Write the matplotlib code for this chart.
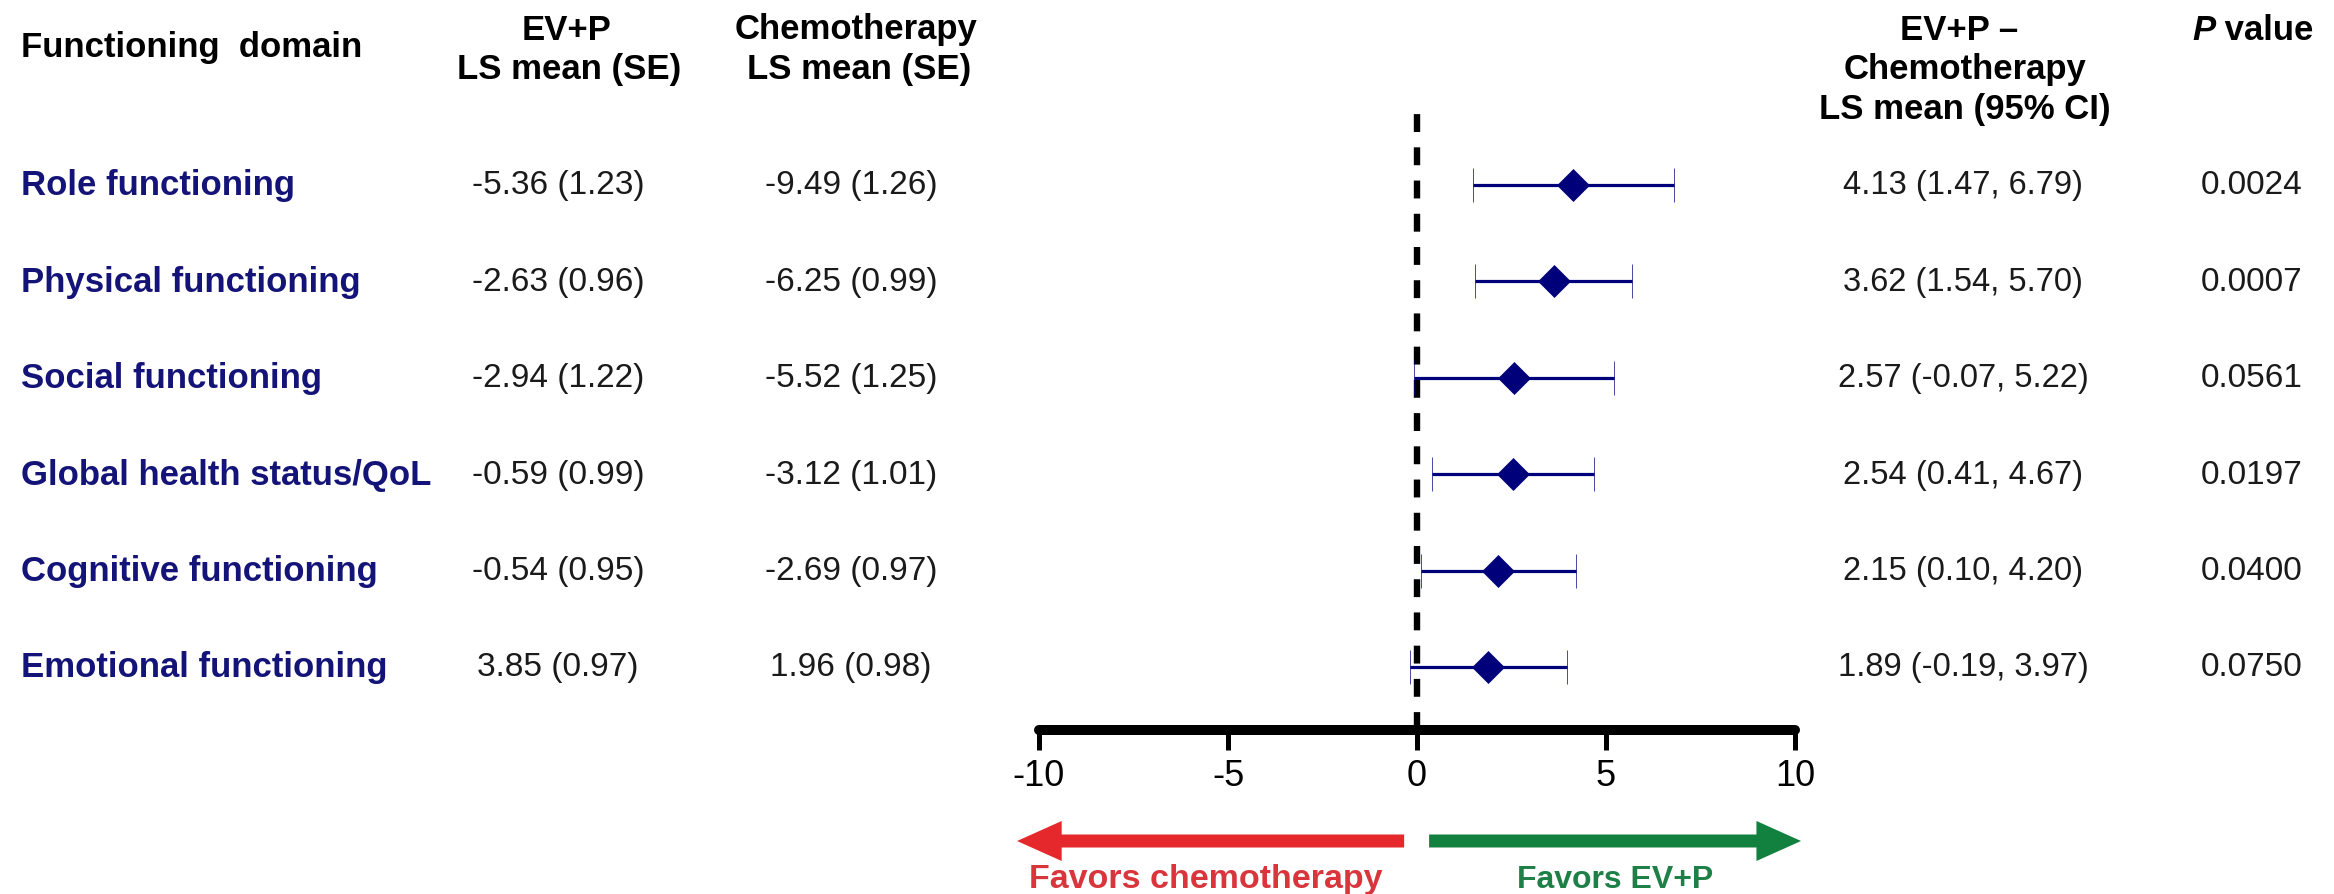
import matplotlib
matplotlib.use("Agg")
import matplotlib.pyplot as plt
from matplotlib.transforms import blended_transform_factory
from matplotlib.patches import FancyArrow

# ---------------- data ----------------
domains = ["Role functioning", "Physical functioning", "Social functioning",
           "Global health status/QoL", "Cognitive functioning", "Emotional functioning"]
evp_ls = ["-5.36 (1.23)", "-2.63 (0.96)", "-2.94 (1.22)", "-0.59 (0.99)", "-0.54 (0.95)", "3.85 (0.97)"]
chemo_ls = ["-9.49 (1.26)", "-6.25 (0.99)", "-5.52 (1.25)", "-3.12 (1.01)", "-2.69 (0.97)", "1.96 (0.98)"]
diff_mean = [4.13, 3.62, 2.57, 2.54, 2.15, 1.89]
diff_low = [1.47, 1.54, -0.07, 0.41, 0.10, -0.19]
diff_high = [6.79, 5.70, 5.22, 4.67, 4.20, 3.97]
p_values = ["0.0024", "0.0007", "0.0561", "0.0197", "0.0400", "0.0750"]
x_ticks = [-10, -5, 0, 5, 10]

# ---------------- layout ----------------
W, H = 2334, 895
FONT = "Liberation Sans"
plt.rcParams["font.family"] = [FONT, "DejaVu Sans"]
NAVY = "#141478"
MARK = "#00007A"
TXT = "#1a1a1a"

fig = plt.figure(figsize=(W / 100, H / 100), dpi=100)
fig.patch.set_facecolor("white")

ax_top, ax_bot = 102, 731
row0, step = 186, 96.4
ax = fig.add_axes([1039 / W, 1 - ax_bot / H, 756 / W, (ax_bot - ax_top) / H])
rows = list(range(len(domains)))
ax.set_xlim(-10, 10)
ax.set_ylim((ax_bot - row0) / step, (ax_top - row0) / step)

# reference line
ax.axvline(0, color="black", lw=4.6, dashes=(2.8, 2.4), zorder=2)

# forest marks
xerr = [[m - l for m, l in zip(diff_mean, diff_low)],
        [h - m for m, h in zip(diff_mean, diff_high)]]
ax.errorbar(diff_mean, rows, xerr=xerr, fmt="D", color=MARK, ms=16.5, mew=0.5,
            elinewidth=2.3, capsize=12.5, capthick=3.0, zorder=3)

for s in ["top", "left", "right"]:
    ax.spines[s].set_visible(False)
ax.spines["bottom"].set_linewidth(7.2)
ax.spines["bottom"].set_capstyle("round")
ax.spines["bottom"].set_bounds(-10, 10)
ax.set_xticks(x_ticks)
ax.set_xticklabels([str(t) for t in x_ticks])
ax.set_yticks([])
ax.tick_params(axis="x", length=14.5, width=3.6, labelsize=26, pad=6, colors="black")
ax.patch.set_alpha(0)

# ---------------- table text ----------------
rt = blended_transform_factory(fig.transFigure, ax.transData)
FSB = 25     # bold labels / headers
FSV = 24     # values
for i, name in enumerate(domains):
    fig.text(21 / W, rows[i], name, transform=rt, ha="left", va="center",
             fontsize=FSB, fontweight="bold", color=NAVY)
    fig.text(558 / W, rows[i], evp_ls[i], transform=rt, ha="center", va="center",
             fontsize=FSV, color=TXT)
    fig.text(851 / W, rows[i], chemo_ls[i], transform=rt, ha="center", va="center",
             fontsize=FSV, color=TXT)
    fig.text(1963 / W, rows[i],
             f"{diff_mean[i]:.2f} ({diff_low[i]:.2f}, {diff_high[i]:.2f})",
             transform=rt, ha="center", va="center", fontsize=23.5, color=TXT)
    fig.text(2252 / W, rows[i], p_values[i], transform=rt, ha="center", va="center",
             fontsize=FSV, color=TXT)

# headers
def htext(x, y, s, **kw):
    return fig.text(x / W, 1 - y / H, s, ha="center", va="center", fontsize=FSB,
                    fontweight="bold", color="black", **kw)

fig.text(21 / W, 1 - 47 / H, "Functioning  domain", ha="left", va="center",
         fontsize=FSB, fontweight="bold", color="black")
htext(567, 30, "EV+P")
htext(569, 70, "LS mean (SE)")
htext(856, 30, "Chemotherapy")
htext(859, 70, "LS mean (SE)")
htext(1959, 30, "EV+P \u2013")
htext(1965, 70, "Chemotherapy")
htext(1965, 110, "LS mean (95% CI)")
tp = fig.text(2192 / W, 1 - 30 / H, "P", ha="left", va="center", fontsize=FSB,
              fontweight="bold", fontstyle="italic", color="black")
ax.annotate(" value", xy=(1, 0), xycoords=tp, ha="left", va="bottom",
            fontsize=FSB, fontweight="bold", color="black", annotation_clip=False)

# ---------------- favors arrows ----------------
at = blended_transform_factory(ax.transData, fig.dpi_scale_trans)
ay = (H - 842) / 100
red, green = "#E5282C", "#12803F"
fig.patches.append(FancyArrow(-0.34, ay, -10.24, 0, width=0.13, head_width=0.40,
                              head_length=1.18, length_includes_head=True,
                              color=red, lw=0, transform=at))
fig.patches.append(FancyArrow(0.32, ay, 9.84, 0, width=0.13, head_width=0.40,
                              head_length=1.18, length_includes_head=True,
                              color=green, lw=0, transform=at))
ft = blended_transform_factory(ax.transData, fig.transFigure)
fig.text(-5.58, 1 - 880 / H, "Favors chemotherapy", transform=ft, ha="center",
         va="center", fontsize=24.5, fontweight="bold", color="#D8363C")
fig.text(5.24, 1 - 880 / H, "Favors EV+P", transform=ft, ha="center",
         va="center", fontsize=23, fontweight="bold", color="#1E7F47")

fig.savefig("out.png", dpi=100, facecolor="white")
